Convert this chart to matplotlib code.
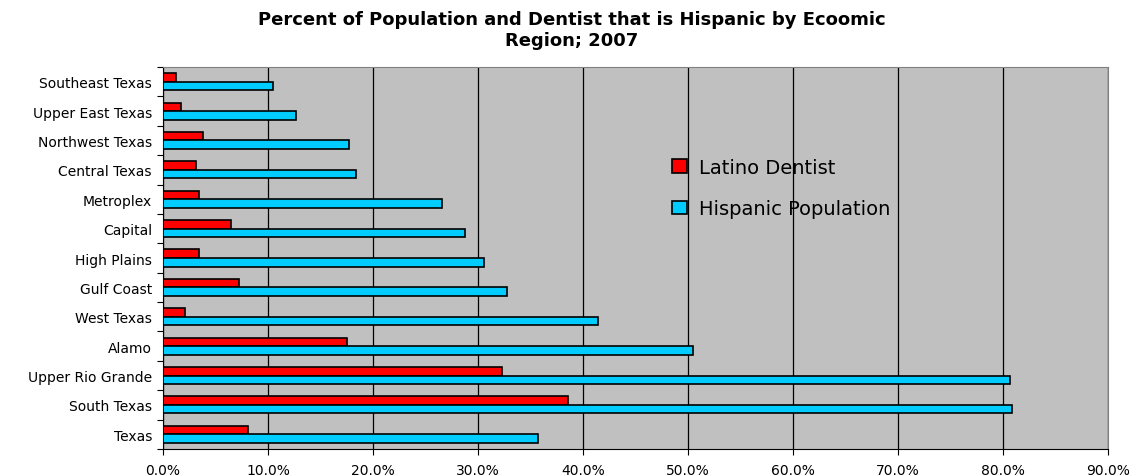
import matplotlib.pyplot as plt
import numpy as np
from matplotlib.ticker import FuncFormatter, FixedLocator

plt.rcParams['font.family'] = ['DejaVu Sans']

regions = ['Texas', 'South Texas', 'Upper Rio Grande', 'Alamo', 'West Texas',
           'Gulf Coast', 'High Plains', 'Capital', 'Metroplex', 'Central Texas',
           'Northwest Texas', 'Upper East Texas', 'Southeast Texas']
latino_dentist = [8.1, 38.6, 32.3, 17.5, 2.1, 7.2, 3.4, 6.5, 3.4, 3.1, 3.8, 1.7, 1.2]
hispanic_pop = [35.7, 80.9, 80.7, 50.5, 41.4, 32.8, 30.6, 28.8, 26.6, 18.4, 17.7, 12.7, 10.5]

fig = plt.figure(figsize=(11.43, 4.77), dpi=100)
ax = fig.add_axes([0.1426, 0.0566, 0.8268, 0.8008])
ax.set_facecolor('#C0C0C0')

y = np.arange(len(regions))
h = 0.29
ax.barh(y + 0.145, latino_dentist, height=h, color='#FF0000', edgecolor='black',
        linewidth=1.2, label='Latino Dentist', zorder=3)
ax.barh(y - 0.145, hispanic_pop, height=h, color='#00CCFF', edgecolor='black',
        linewidth=1.2, label='Hispanic Population', zorder=3)

ax.set_xlim(0, 90)
ax.set_ylim(-0.5, len(regions) - 0.5)
ax.set_xticks(np.arange(0, 91, 10))
ax.xaxis.set_major_formatter(FuncFormatter(lambda v, p: f'{v:.1f}%'))
ax.grid(axis='x', color='black', linewidth=0.9, zorder=1)

ax.set_yticks(y)
ax.set_yticklabels(regions)
ax.yaxis.set_minor_locator(FixedLocator(np.arange(-0.5, len(regions), 1)))
ax.tick_params(axis='y', which='major', length=0, pad=8, labelsize=10)
ax.tick_params(axis='y', which='minor', length=4, width=0.8)
ax.tick_params(axis='x', length=4, width=0.8, labelsize=10, pad=6)

for s in ['top', 'right']:
    ax.spines[s].set_color('#808080')
for s in ['left', 'bottom']:
    ax.spines[s].set_color('black')

ax.legend(loc='center left', bbox_to_anchor=(0.52, 0.683), frameon=False,
          fontsize=14, handlelength=0.8, handleheight=0.7, labelspacing=1.15,
          handletextpad=0.6)

fig.suptitle('Percent of Population and Dentist that is Hispanic by Ecoomic\nRegion; 2007',
             fontsize=13, fontweight='bold', x=0.5, y=0.976, va='top',
             linespacing=1.2)

fig.savefig('out.png', dpi=100)
